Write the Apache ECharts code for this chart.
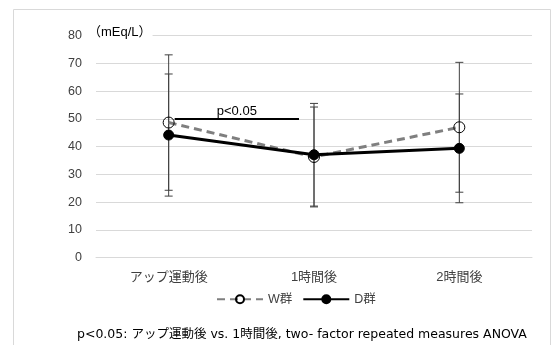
<!DOCTYPE html>
<html><head><meta charset="utf-8">
<script src="https://cdn.jsdelivr.net/npm/echarts@6/dist/echarts.min.js"></script>
<style>html,body{margin:0;padding:0;background:#fff}#c{width:552px;height:345px}</style>
</head><body><div id="c"></div>
<script>
var categories = ['アップ運動後', '1時間後', '2時間後'];
var wMeans = [48.7, 36.3, 47.0];
var wErr = [24.4, 18.0, 23.4];
var dMeans = [44.2, 37.1, 39.4];
var dErr = [22.0, 18.5, 19.6];
var yTicks = [0, 10, 20, 30, 40, 50, 60, 70, 80];
var seriesNames = ['W群', 'D群'];
var sigLevel = 50;
var sigLabel = 'p<0.05';
var unitLabel = '（mEq/L）';
var caption = 'p<0.05: アップ運動後 vs. 1時間後, two- factor repeated measures ANOVA';

var FONT = '"Liberation Sans", "Noto Sans CJK JP", sans-serif';
var CAPFONT = '"DejaVu Sans", "Noto Sans CJK JP", sans-serif';
var chart = echarts.init(document.getElementById('c'));

function errData(means, errs) {
  return means.map(function (m, i) { return [i, m - errs[i], m + errs[i]]; });
}
function errRender(params, api) {
  var x = api.value(0);
  var lo = api.coord([x, api.value(1)]);
  var hi = api.coord([x, api.value(2)]);
  var hw = 4;
  var st = { stroke: '#404040', lineWidth: 1 };
  return { type: 'group', children: [
    { type: 'line', shape: { x1: lo[0], y1: lo[1], x2: hi[0], y2: hi[1] }, style: st },
    { type: 'line', shape: { x1: lo[0] - hw, y1: lo[1], x2: lo[0] + hw, y2: lo[1] }, style: st },
    { type: 'line', shape: { x1: hi[0] - hw, y1: hi[1], x2: hi[0] + hw, y2: hi[1] }, style: st }
  ]};
}

chart.setOption({
  animation: false,
  textStyle: { fontFamily: FONT },
  grid: { left: 96, right: 20, top: 35.7, bottom: 87.3 },
  legend: {
    data: seriesNames,
    top: 288, left: 211, itemWidth: 46, itemHeight: 10, itemGap: 10,
    textStyle: { fontFamily: FONT, fontSize: 12.5, color: '#404040' }
  },
  xAxis: {
    type: 'category', data: categories, boundaryGap: true,
    axisLine: { lineStyle: { color: '#d9d9d9', width: 1 } },
    axisTick: { show: false },
    axisLabel: { margin: 13, fontSize: 13, color: '#404040', fontFamily: FONT }
  },
  yAxis: {
    type: 'value', min: yTicks[0], max: yTicks[yTicks.length - 1], interval: 10,
    axisLine: { show: false }, axisTick: { show: false },
    splitLine: { lineStyle: { color: '#d9d9d9', width: 1 } },
    axisLabel: { margin: 14, fontSize: 12.5, color: '#404040', fontFamily: FONT }
  },
  series: [
    { type: 'custom', name: 'wErr', data: errData(wMeans, wErr), renderItem: errRender, z: 1, silent: true },
    { type: 'custom', name: 'dErr', data: errData(dMeans, dErr), renderItem: errRender, z: 1, silent: true },
    {
      type: 'custom', name: 'sig', data: [[0, 1, sigLevel]], z: 3, silent: true,
      renderItem: function (params, api) {
        var a = api.coord([api.value(0), api.value(2)]);
        var b = api.coord([api.value(1), api.value(2)]);
        var x1 = a[0] + 6, x2 = b[0] - 15;
        return { type: 'group', children: [
          { type: 'line', shape: { x1: x1, y1: a[1], x2: x2, y2: a[1] }, style: { stroke: '#000', lineWidth: 2 } },
          { type: 'text', style: { text: sigLabel, x: (x1 + x2) / 2, y: a[1] - 1, textAlign: 'center', textVerticalAlign: 'bottom', fill: '#000', font: '13px ' + FONT } }
        ]};
      }
    },
    {
      type: 'line', name: seriesNames[0], data: wMeans, z: 5,
      symbol: 'circle', symbolSize: 11, showAllSymbol: true,
      lineStyle: { color: '#7f7f7f', width: 3, type: [8, 5] },
      itemStyle: { color: 'rgba(255,255,255,0)', borderColor: '#000', borderWidth: 1 }
    },
    {
      type: 'line', name: seriesNames[1], data: dMeans, z: 6,
      symbol: 'circle', symbolSize: 10, showAllSymbol: true,
      lineStyle: { color: '#000', width: 3 },
      itemStyle: { color: '#000', borderColor: '#000', borderWidth: 1 }
    }
  ],
  graphic: [
    { type: 'rect', left: 11, top: 7, shape: { width: 537, height: 400 }, style: { fill: 'none', stroke: '#d9d9d9', lineWidth: 1 }, silent: true, z: -10 },
    { type: 'text', left: 88, top: 26, z: 10, style: { text: unitLabel, font: '13px ' + FONT, fill: '#000', backgroundColor: '#fff', padding: [0, 1, 0, 0] } },
    { type: 'text', left: 77, top: 328, style: { text: caption, font: '12.5px ' + CAPFONT, fill: '#000' } }
  ]
});
</script></body></html>
